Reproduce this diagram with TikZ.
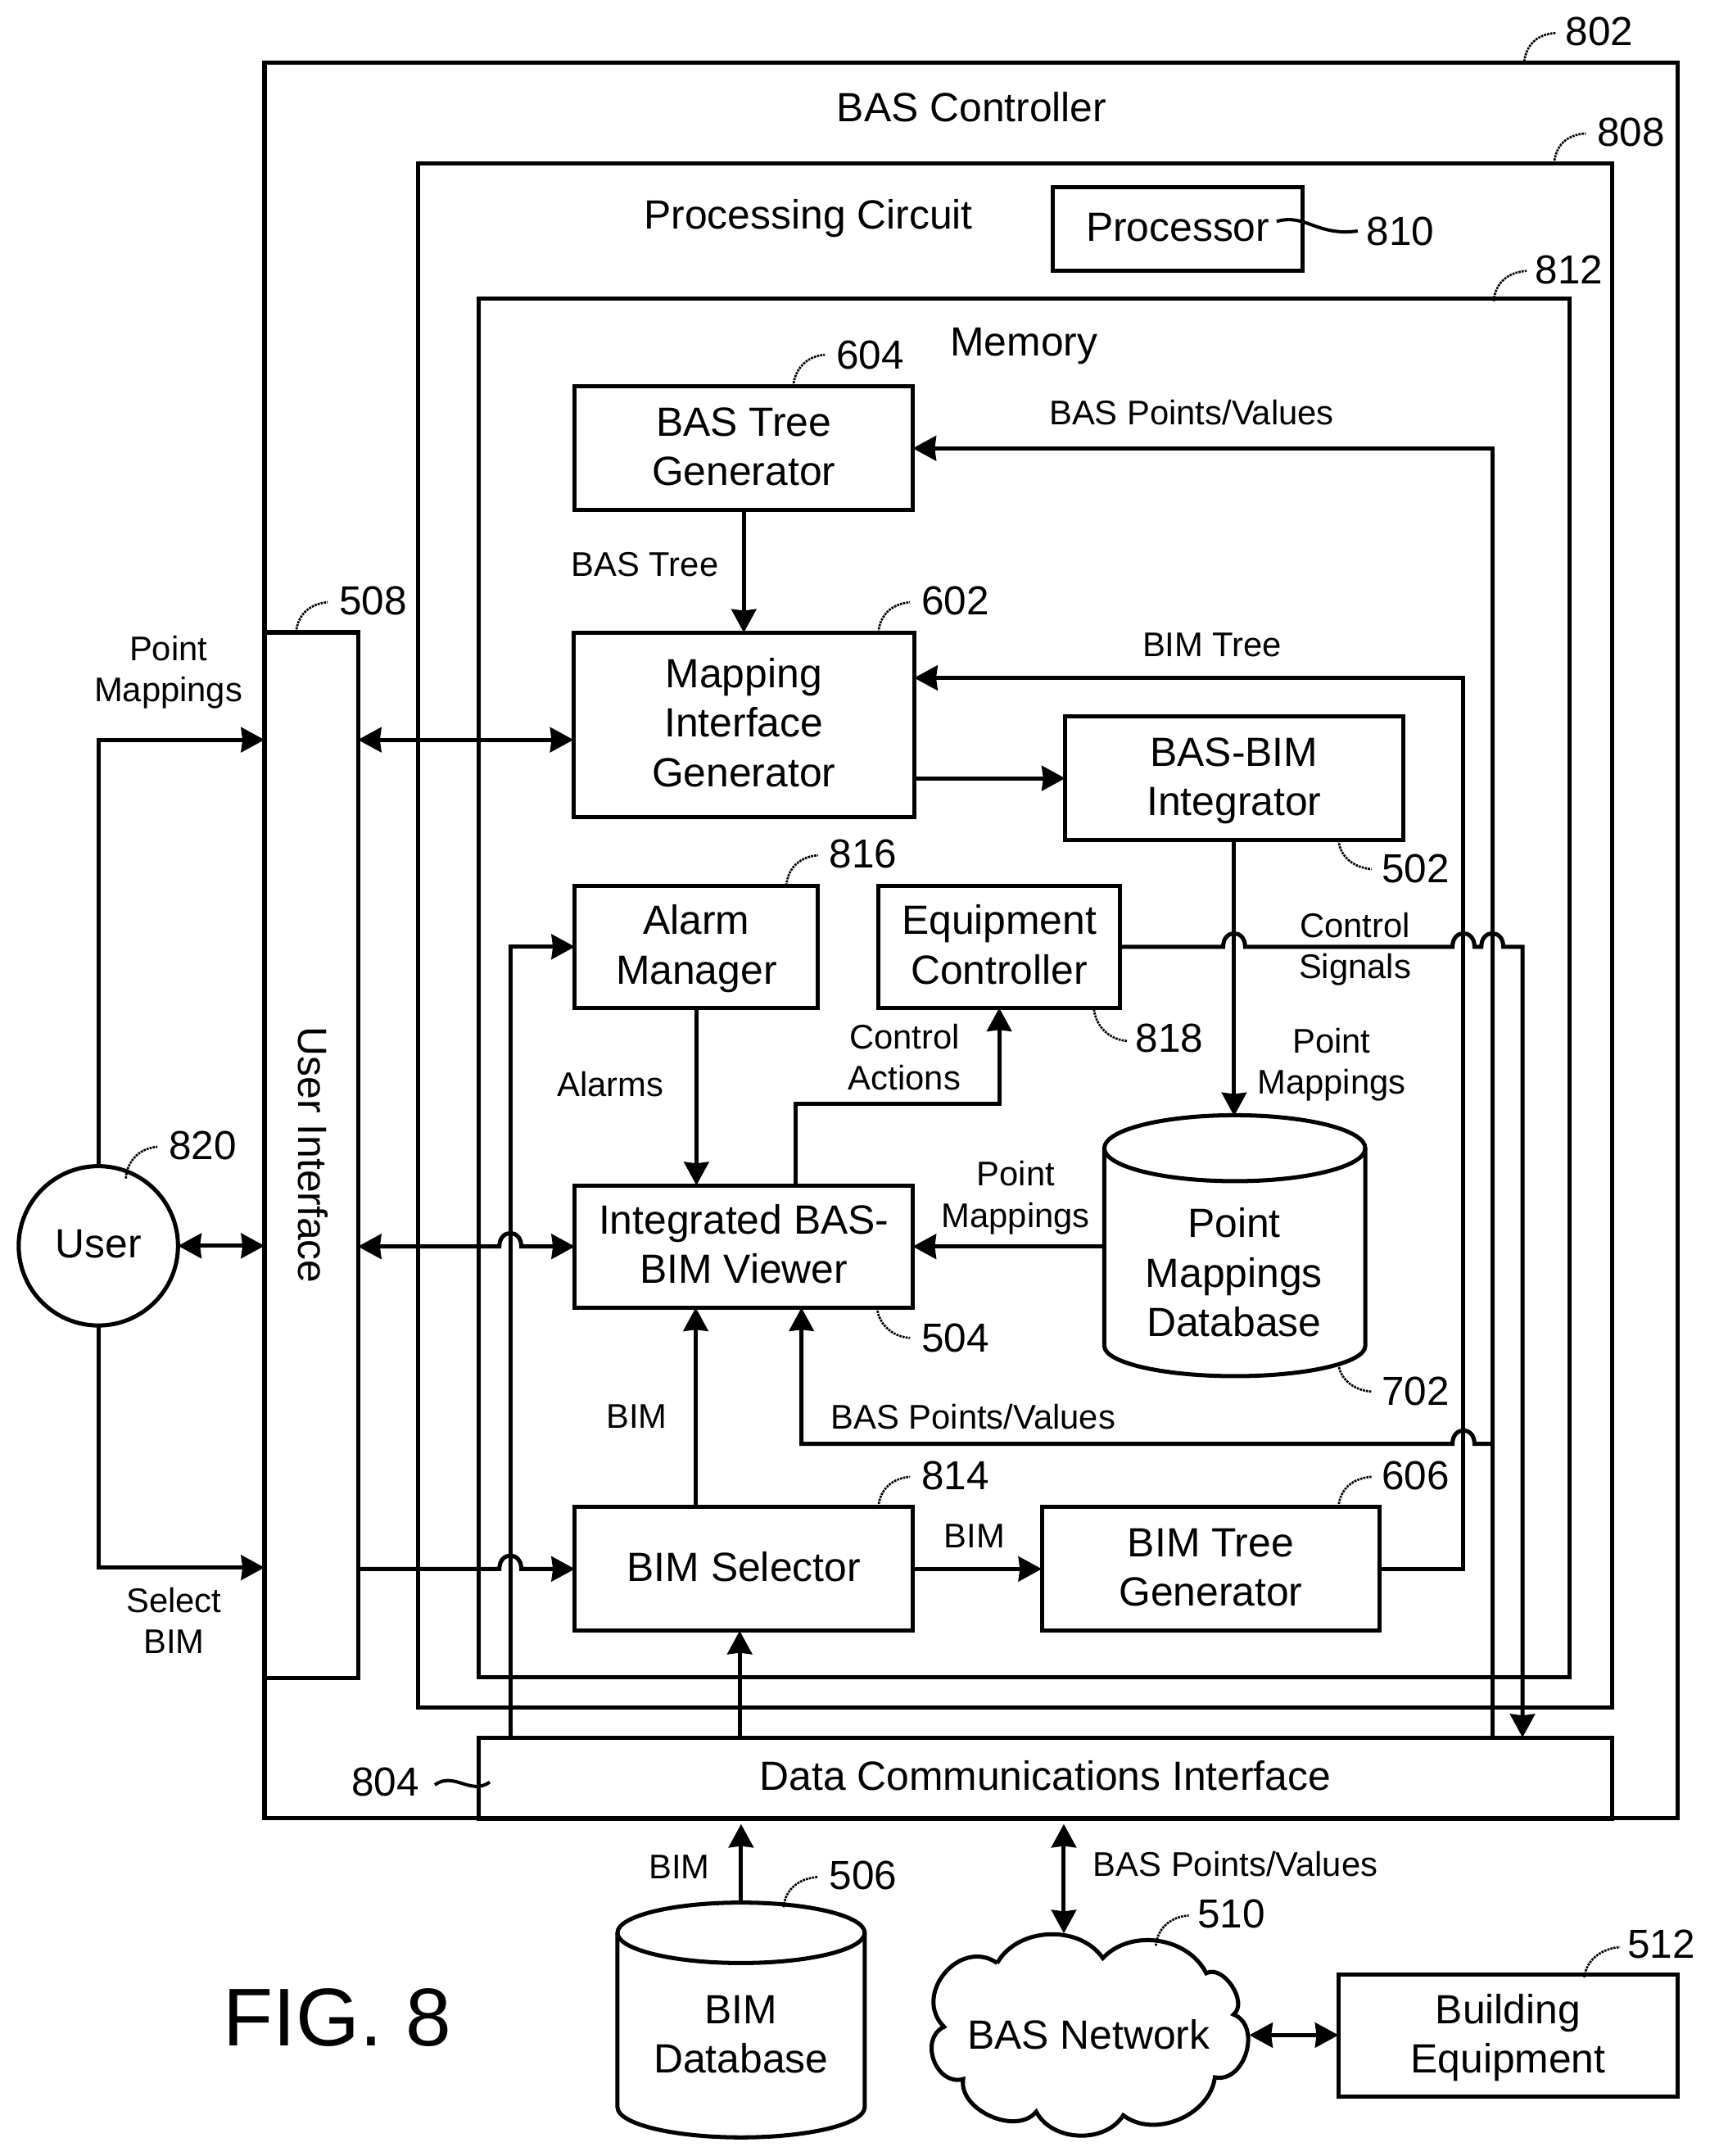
\documentclass[tikz,border=0pt]{standalone}
\usepackage{fontspec}
\setmainfont{Liberation Sans}
\usetikzlibrary{arrows.meta}
\newcommand{\cs}{\rule[-8pt]{0pt}{34pt}}
\newcommand{\cl}{\rule[-6.5pt]{0pt}{30pt}}
\tikzset{
  ln/.style={line width=3pt,line join=miter},
  mainfont/.style={font=\fontsize{29.7}{36}\selectfont},
  smallfont/.style={font=\fontsize{24.9}{30}\selectfont},
  numfont/.style={font=\fontsize{29.5}{35}\selectfont},
  box/.style={draw,ln,inner sep=0pt,outer sep=0pt,align=center,mainfont},
  txt/.style={inner sep=0pt,outer sep=0pt,align=center,mainfont},
  lab/.style={inner sep=0pt,outer sep=0pt,align=center,smallfont},
  num/.style={inner sep=0pt,outer sep=0pt,numfont},
  tipto/.style={-{Stealth[length=17pt,width=18pt,inset=1pt]}},
  tipboth/.style={{Stealth[length=17pt,width=18pt,inset=1pt]}-{Stealth[length=17pt,width=18pt,inset=1pt]}},
  leader/.style={line width=1.6pt,dash pattern=on 1.6pt off 0.7pt},
  wave/.style={line width=2.4pt}
}
\begin{document}
\begin{tikzpicture}[x=1pt,y=-1.001pt]
\useasboundingbox (0,0) rectangle (1245,1567.93);
\begin{scope}[xshift=0.6pt]
% containers
\node[box,minimum width=1029pt,minimum height=1278pt] (bas) at (706.5,684) {};
\node[box,minimum width=869pt,minimum height=1124pt] (pc) at (738.5,680.5) {};
\node[box,minimum width=794pt,minimum height=1004pt] (mem) at (745,718.5) {};
\node[box,minimum width=68pt,minimum height=761pt] (ui) at (226,840) {\rotatebox{-90}{\cs User Interface}};
\node[box,minimum width=825pt,minimum height=59pt] (dci) at (760.5,1293) {\cs Data Communications Interface};
\node[txt] (t1) at (707,79.5) {\cs BAS Controller};
\node[txt] (t2) at (588,157.5) {\cs Processing Circuit};
\node[txt] (t3) at (745,250) {\cs Memory};
% boxes
\node[box,minimum width=182pt,minimum height=61pt] (proc) at (857,166.5) {\raisebox{-1pt}{\cs Processor}};
\node[box,minimum width=246pt,minimum height=90pt] (tree) at (541,326) {\cs BAS Tree\\\cs Generator};
\node[box,minimum width=248pt,minimum height=134pt] (map) at (541,527) {\cs Mapping\\\cs Interface\\\cs Generator};
\node[box,minimum width=246pt,minimum height=90pt] (integ) at (898,566) {\cs BAS-BIM\\\cs Integrator};
\node[box,minimum width=177pt,minimum height=89pt] (alarm) at (506.5,688.5) {\cs Alarm\\\cs Manager};
\node[box,minimum width=176pt,minimum height=89pt] (equip) at (727,688.5) {\cs Equipment\\\cs Controller};
\node[box,minimum width=246pt,minimum height=89pt] (view) at (541,906.5) {\cs Integrated BAS-\\\cs BIM Viewer};
\node[box,minimum width=246pt,minimum height=90pt] (sel) at (541,1141) {\raisebox{-1pt}{\cs BIM Selector}};
\node[box,minimum width=246pt,minimum height=90pt] (bimtree) at (881,1141) {\cs BIM Tree\\\cs Generator};
\node[box,minimum width=247pt,minimum height=89pt] (bldg) at (1097.5,1480.5) {\cs Building\\\cs Equipment};
\node[box,circle,minimum size=116pt] (user) at (71,906) {\raisebox{-1.5pt}{\cs User}};
% cylinders
\node[txt,minimum width=190pt,minimum height=190pt] (pmdb) at (898.5,906.5) {};
\draw[ln] (898.5,835) ellipse [x radius=95pt,y radius=24pt];
\draw[ln] (803.5,835) -- (803.5,978.8) arc[start angle=180,end angle=360,x radius=95pt,y radius=22pt] -- (993.5,835);
\node[txt] (pmdbt) at (898,927) {\cs Point\\\cs Mappings\\\cs Database};
\node[txt,minimum width=180pt,minimum height=170pt] (bimdb) at (539,1470) {};
\draw[ln] (539,1405.6) ellipse [x radius=90pt,y radius=22pt];
\draw[ln] (449,1405.6) -- (449,1532.4) arc[start angle=180,end angle=360,x radius=90pt,y radius=22pt] -- (629,1405.6);
\node[txt] (bimdbt) at (539,1480.5) {\cs BIM\\\cs Database};
% cloud
\node[txt] (net) at (792,1481) {\cs BAS Network};
\coordinate (cloudtop) at (774,1406);
\coordinate (cloudright) at (909,1480);
\coordinate (dbin) at (539,1326.5);
\coordinate (netin) at (774,1326.5);
\draw[ln] (725.5,1427.6) to[bend left=58] (802.4,1424) to[bend left=55] (877.7,1435) to[bend left=85] (897.6,1465)
  to[bend left=85,looseness=1.2] (884,1510.7) to[bend left=60] (817.3,1538.3) to[bend left=60] (753.9,1535.7)
  to[bend left=75] (700.7,1512) to[bend left=85,looseness=1.3] (686.8,1474) to[bend left=85,looseness=1.4] (725.5,1427.6);
% labels
\node[lab] (l1) at (867,300.5) {\cl BAS Points/Values};
\node[lab] (l2) at (469,410.5) {\cl BAS Tree};
\node[lab] (l3) at (882,469) {\cl BIM Tree};
\node[lab] (l4) at (122,487) {\cl Point\\\cl Mappings};
\node[lab] (l5) at (986,688) {\cl Control\\\cl Signals};
\node[lab] (l6) at (969,772) {\cl Point\\\cl Mappings};
\node[lab] (l7) at (658,769) {\cl Control\\\cl Actions};
\node[lab] (l8) at (444,789) {\cl Alarms};
\node[lab] (l9) at (739,869) {\cl Point\\\cl Mappings};
\node[lab] (l10) at (463,1030) {\cl BIM};
\node[lab] (l11) at (708,1031) {\cl BAS Points/Values};
\node[lab] (l12) at (709,1117) {\cl BIM};
\node[lab] (l13) at (126,1179) {\cl Select\\\cl BIM};
\node[lab] (l14) at (494,1358) {\cl BIM};
\node[lab] (l15) at (899,1356) {\cl BAS Points/Values};
\node[inner sep=0pt,font=\fontsize{59.7}{60}\selectfont] (fig) at (245,1467) {FIG. 8};
% connectors
\draw[ln,tipto] (user.north) |- (ui.west |- 0,538);
\draw[ln,tipto] (user.south) |- (ui.west |- 0,1140);
\draw[ln,tipboth] (user.east) -- (ui.west |- user.east);
\draw[ln,tipboth] (ui.east |- 0,538) -- (map.west |- 0,538);
\draw[ln,tipboth] (ui.east |- view.west) -- (363,906.5) .. controls (363,893.5) and (379,893.5) .. (379,906.5) -- (view.west);
\draw[ln,tipto] (ui.east |- sel.west) -- (363,1141) .. controls (363,1128) and (379,1128) .. (379,1141) -- (sel.west);
\draw[ln,tipto] (dci.north -| 371,0) |- (alarm.west);
\draw[ln,tipto] (dci.north -| 538,0) -- (sel.south -| 538,0);
\draw[ln,tipto] (tree.south) -- (map.north -| tree.south);
\draw[ln,tipto] (map.east |- 0,566) -- (integ.west);
\draw[ln,tipto] (bimtree.east) -| (1065,493) -- (map.east |- 0,493);
\draw[ln,tipto] (dci.north -| 1086,0) |- (tree.east);
\draw[ln,tipto] (integ.south) -- (pmdb.north -| integ.south);
\draw[ln,tipto] (equip.east) -- (890,688.5) .. controls (890,675.5) and (906,675.5) .. (906,688.5)
  -- (1057,688.5) .. controls (1057,675.5) and (1073,675.5) .. (1073,688.5)
  -- (1078,688.5) .. controls (1078,675.5) and (1094,675.5) .. (1094,688.5)
  -- (1108,688.5) -- (dci.north -| 1108,0);
\draw[ln,tipto] (alarm.south) -- (view.north -| alarm.south);
\draw[ln,tipto] (view.north -| 579,0) |- (727,803) -- (equip.south);
\draw[ln,tipto] (pmdb.west |- view.east) -- (view.east);
\draw[ln,tipto] (sel.north -| 506,0) -- (view.south -| 506,0);
\draw[ln,tipto] (1086,1050) -- (1073,1050) .. controls (1073,1037) and (1057,1037) .. (1057,1050) -- (583,1050) -- (view.south -| 583,0);
\draw[ln,tipto] (sel.east) -- (bimtree.west);
\draw[ln,tipto] (bimdb.north) -- (dbin);
\draw[ln,tipboth] (cloudtop) -- (netin);
\draw[ln,tipboth] (cloudright) -- (bldg.west |- cloudright);
% reference numbers
\node[num] (n802) at (1164,23) {802};
\draw[leader] (1109,47) .. controls (1110,33) and (1118,25) .. (1132,24);
\node[num] (n808) at (1187,96) {808};
\draw[leader] (1131,119) .. controls (1132,106) and (1140,98) .. (1154,97);
\node[num] (n812) at (1142,196) {812};
\draw[leader] (1087,219) .. controls (1088,206) and (1097,198) .. (1111,197);
\node[num] (n604) at (633,258) {604};
\draw[leader] (577,281) .. controls (578,268) and (587,259) .. (600,258);
\node[num] (n602) at (695,437) {602};
\draw[leader] (639,460) .. controls (640,447) and (649,439) .. (662,438);
\node[num] (n508) at (271,437) {508};
\draw[leader] (215,460) .. controls (216,447) and (225,439) .. (238,438);
\node[num] (n816) at (628,621) {816};
\draw[leader] (572,644) .. controls (573,631) and (582,623) .. (595,622);
\node[num] (n502) at (1030,632) {502};
\draw[leader] (974,611) .. controls (975,622) and (984,631) .. (998,632);
\node[num] (n818) at (851,755) {818};
\draw[leader] (796,734) .. controls (797,745) and (806,756) .. (820,757);
\node[num] (n504) at (695,973) {504};
\draw[leader] (638,951) .. controls (639,962) and (648,972) .. (662,973);
\node[num] (n702) at (1030,1012) {702};
\draw[leader] (974,992) .. controls (975,1002) and (984,1011) .. (998,1012);
\node[num] (n820) at (147,833) {820};
\draw[leader] (91,857) .. controls (92,844) and (101,835) .. (114,834);
\node[num] (n814) at (695,1073) {814};
\draw[leader] (639,1096) .. controls (640,1083) and (649,1075) .. (662,1074);
\node[num] (n606) at (1030,1073) {606};
\draw[leader] (974,1096) .. controls (975,1083) and (984,1075) .. (998,1074);
\node[num] (n506) at (628,1364) {506};
\draw[leader] (570,1387) .. controls (571,1374) and (581,1366) .. (595,1365);
\node[num] (n510) at (896,1392) {510};
\draw[leader] (841,1415) .. controls (842,1403) and (851,1394) .. (865,1393);
\node[num] (n512) at (1209,1414) {512};
\draw[leader] (1153,1438) .. controls (1154,1426) and (1165,1417) .. (1179,1416);
\node[num] (n810) at (1019,168) {810};
\draw[wave] (929,161) .. controls (950,155) and (958,172) .. (988,168);
\node[num] (n804) at (280,1296) {804};
\draw[wave] (316,1298) .. controls (330,1288) and (342,1306) .. (356,1296);
\end{scope}
\end{tikzpicture}
\end{document}
